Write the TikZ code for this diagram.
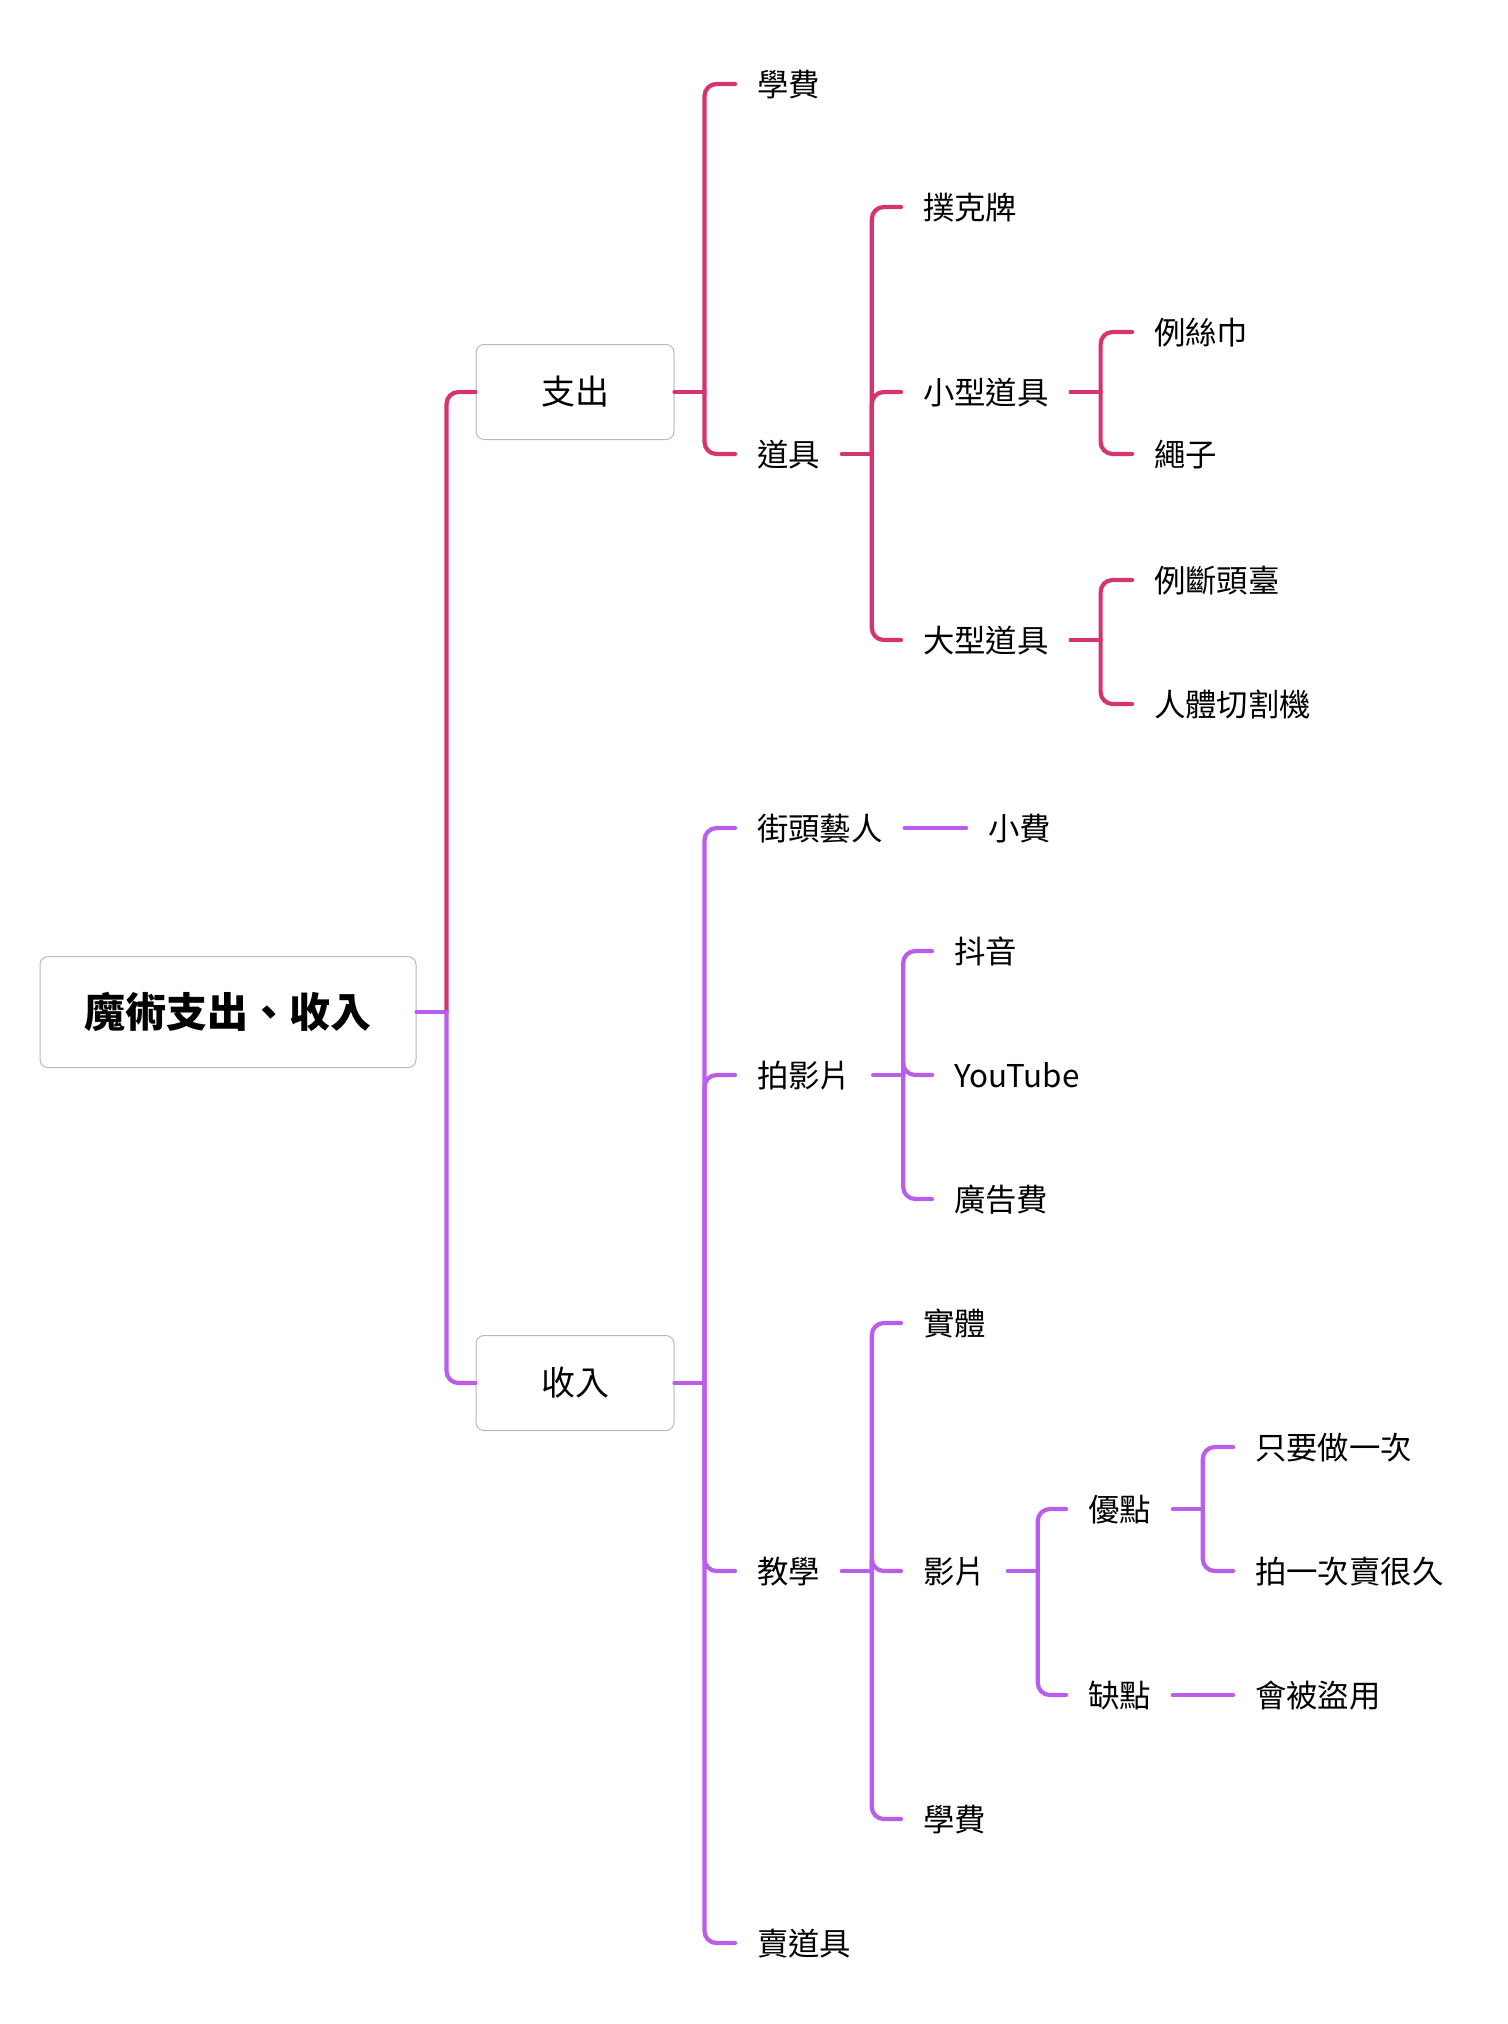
\documentclass[tikz,border=0pt]{standalone}
\usepackage{fontspec}
\setmainfont{Noto Sans CJK TC}

\definecolor{outpink}{RGB}{214,52,110}
\definecolor{inpurple}{RGB}{186,92,236}
\definecolor{boxgray}{RGB}{185,185,185}

\tikzstyle{rootbox} = [draw=boxgray, line width=0.5pt, rounded corners=4pt, minimum width=188pt, minimum height=55.5pt, inner sep=0pt, font=\bfseries\fontsize{20.5}{24}\selectfont]
\tikzstyle{box} = [draw=boxgray, line width=0.5pt, rounded corners=4pt, minimum width=99pt, minimum height=47.5pt, inner sep=0pt, font=\fontsize{17}{20}\selectfont]
\tikzstyle{topic} = [anchor=west, inner sep=0pt, outer xsep=11pt, text height=13.6pt, text depth=1.6pt, font=\fontsize{15.7}{18}\selectfont]
\tikzstyle{link} = [line width=2.1pt, line cap=round, rounded corners=6pt]

\begin{document}
\begin{tikzpicture}[x=0.5pt, y=-0.5pt]
		\useasboundingbox (0,0) rectangle (1508,2024);
		%\draw[help lines, step=100] (0,0) grid (1508,2024);
		
		\node[rootbox] (root) at (228,1012) {魔術支出、收入};
		\node[box] (zhichu) at (575,392) {支出};
		\node[box] (shouru) at (575,1383) {收入};
		
		% 支出
		\foreach \n/\x/\y/\s in {xuefei/735/84/學費, daoju/735/454/道具,
			puke/901/207/撲克牌, xiaoxing/901/392/小型道具, daxing/901/640/大型道具,
			sijin/1132/332/例絲巾, shengzi/1132/454/繩子,
			duantou/1132/580/例斷頭臺, qiege/1132/704/人體切割機}
		\node[topic] (\n) at (\x,\y) {\s};
		
		% 收入
		\foreach \n/\x/\y/\s in {jietou/735/828/街頭藝人, xiaofei/966/828/小費,
			paiying/735/1075/拍影片, douyin/932/951/抖音,
			youtube/932/1075/YouTube, guanggao/932/1199/廣告費,
			jiaoxue/735/1571/教學, shiti/901/1323/實體,
			yingpian/901/1571/影片, xuefeib/901/1819/學費,
			youdian/1066/1509/優點, quedian/1066/1695/缺點,
			zhiyao/1233/1447/只要做一次, paiyici/1233/1571/拍一次賣很久,
			daoyong/1233/1695/會被盜用, maidaoju/735/1943/賣道具}
		\node[topic] (\n) at (\x,\y) {\s};
		
		\foreach \p/\c in {root/inpurple, zhichu/outpink, daoju/outpink,
			xiaoxing/outpink, daxing/outpink, shouru/inpurple,
			paiying/inpurple, jiaoxue/inpurple, yingpian/inpurple,
			youdian/inpurple}
		\draw[link, \c] (\p.east) -- ++(30,0) coordinate (\p-v);
		
		\foreach \p/\c in {root/zhichu, zhichu/xuefei, zhichu/daoju,
			daoju/puke, daoju/xiaoxing, daoju/daxing,
			xiaoxing/sijin, xiaoxing/shengzi, daxing/duantou, daxing/qiege}
		\draw[link, outpink] (\p-v) |- (\c.west);
		
		\foreach \p/\c in {root/shouru, shouru/jietou, shouru/paiying,
			shouru/jiaoxue, shouru/maidaoju,
			paiying/douyin, paiying/youtube, paiying/guanggao,
			jiaoxue/shiti, jiaoxue/yingpian, jiaoxue/xuefeib,
			yingpian/youdian, yingpian/quedian,
			youdian/zhiyao, youdian/paiyici}
		\draw[link, inpurple] (\p-v) |- (\c.west);
		
		% single child, straight
		\draw[link, inpurple] (jietou.east) -- (xiaofei.west);
		\draw[link, inpurple] (quedian.east) -- (daoyong.west);
		
	\end{tikzpicture}
\end{document}
